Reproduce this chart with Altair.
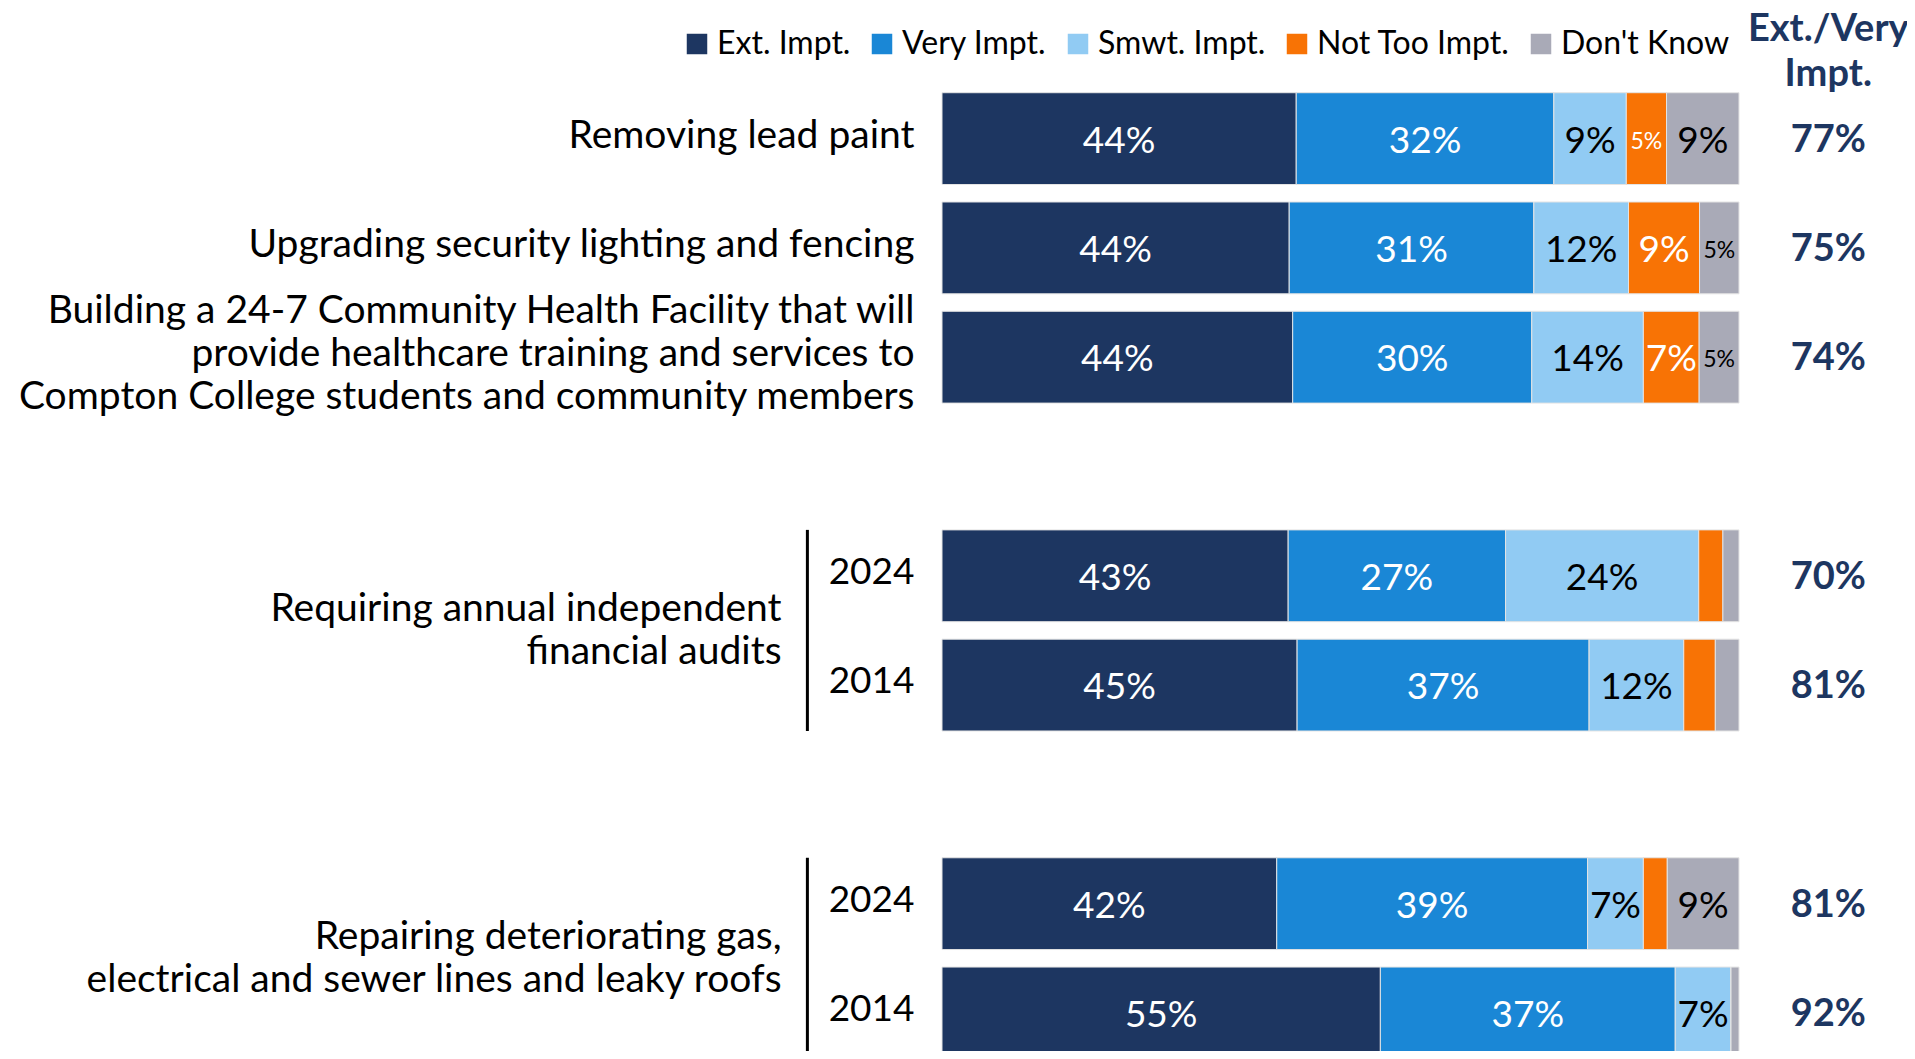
import altair as alt
import pandas as pd

# ---------------- data ----------------
CATS = ["Ext. Impt.", "Very Impt.", "Smwt. Impt.", "Not Too Impt.", "Don't Know"]
COLORS = ["#1D3661", "#1A87D6", "#91CBF3", "#F87305", "#A9AAB7"]

# display order of rows ("" = empty spacer row)
ROW_ORDER = ["lead", "security", "health", "", "audit24", "audit14", " ", "repair24", "repair14"]
ROWS = ["lead", "security", "health", "audit24", "audit14", "repair24", "repair14"]

EXT = [44, 44, 44, 43, 45, 42, 55]
VERY = [32, 31, 30, 27, 37, 39, 37]
SMWT = [9, 12, 14, 24, 12, 7, 7]
NOTTOO = [5, 9, 7, 3, 4, 3, 0]
DK = [9, 5, 5, 2, 3, 9, 1]
EXT_VERY = [77, 75, 74, 70, 81, 81, 92]

ROW_LABELS = [
    "Removing lead paint",
    "Upgrading security lighting and fencing",
    "Building a 24-7 Community Health Facility that will\nprovide healthcare training and services to\nCompton College students and community members",
    "", "", "", "",
]
YEAR_LABELS = ["", "", "", "2024", "2014", "2024", "2014"]
GROUP_LABELS = [
    "Requiring annual independent\nfinancial audits",
    "Repairing deteriorating gas,\nelectrical and sewer lines and leaky roofs",
]
GROUP_ROWS = [["audit24", "audit14"], ["repair24", "repair14"]]
HEADER = "Ext./Very\nImpt."

# ---------------- tables ----------------
series = [EXT, VERY, SMWT, NOTTOO, DK]
long_rows = []
for i, r in enumerate(ROWS):
    for j, c in enumerate(CATS):
        long_rows.append({"row": r, "slot": ROW_ORDER.index(r), "cat": c, "order": j, "value": series[j][i]})
long_df = pd.DataFrame(long_rows)

row_df = pd.DataFrame({
    "row": ROWS,
    "slot": [ROW_ORDER.index(r) for r in ROWS],
    "label": ROW_LABELS,
    "year": YEAR_LABELS,
    "ev": [f"{v}%" for v in EXT_VERY],
})

grp_df = pd.DataFrame({
    "label": GROUP_LABELS,
    "top": [min(ROW_ORDER.index(r) for r in g) for g in GROUP_ROWS],
    "bot": [max(ROW_ORDER.index(r) for r in g) for g in GROUP_ROWS],
})
grp_df["mid"] = (grp_df["top"] + grp_df["bot"]) / 2

hdr_df = pd.DataFrame({"label": [HEADER]})

# ---------------- layout constants ----------------
HALF = 0.42
FONT = "Lato"
NAVY = "#1D3661"
X_LABEL = -0.0345
X_GROUP = -0.2013
X_RULE = -0.1689
X_EV = 1.112
Y_HEADER = -0.785
PX_PER_SLOT = 109.3
LH = 43          # line height of the multi-line labels (px)
LH_HDR = 45

xs = alt.Scale(domain=[0, 1], nice=False, zero=False)
ys = alt.Scale(domain=[-1.195, 8.348], nice=False, zero=False, reverse=True)


def first_line(center_field, lh):
    # y of the first line so that the block of lines is centred on center_field
    return f"datum.{center_field} - (split(datum.label, '\\n').length - 1) / 2 * {lh / PX_PER_SLOT}"


base = (
    alt.Chart(long_df)
    .transform_stack(stack="value", as_=["x0", "x1"], groupby=["row"],
                     sort=[alt.SortField("order", order="ascending")], offset="normalize")
    .transform_calculate(yt=f"datum.slot - {HALF}", yb=f"datum.slot + {HALF}",
                         xm="(datum.x0 + datum.x1) / 2", lab="datum.value + '%'")
)

bars = base.mark_rect(stroke="#E4E4E4", strokeWidth=1).encode(
    x=alt.X("x0:Q", scale=xs, axis=None),
    x2="x1:Q",
    y=alt.Y("yt:Q", scale=ys, axis=None),
    y2="yb:Q",
    color=alt.Color(
        "cat:N",
        scale=alt.Scale(domain=CATS, range=COLORS),
        legend=alt.Legend(
            title=None, orient="none", legendX=-261, legendY=20, direction="horizontal",
            columns=5, symbolType="square", symbolSize=420, symbolStrokeWidth=0,
            symbolOpacity=1, labelFont=FONT, labelFontSize=32, labelColor="black",
            labelOffset=4, columnPadding=15, padding=0, labelLimit=500,
        ),
    ),
)


def value_text(cond, size, color):
    return base.transform_filter(cond).mark_text(
        font=FONT, fontSize=size, color=color, align="center", baseline="middle", dy=3
    ).encode(x=alt.X("xm:Q", scale=xs), y=alt.Y("slot:Q", scale=ys), text="lab:N")


WHITE_CATS = "(datum.order == 0 || datum.order == 1 || datum.order == 3)"
BLACK_CATS = "(datum.order == 2 || datum.order == 4)"
t_big_w = value_text(f"datum.value >= 6 && {WHITE_CATS}", 37, "white")
t_big_b = value_text(f"datum.value >= 6 && {BLACK_CATS}", 37, "black")
t_sm_w = value_text(f"datum.value == 5 && {WHITE_CATS}", 23, "white")
t_sm_b = value_text(f"datum.value == 5 && {BLACK_CATS}", 23, "black")

rows_base = alt.Chart(row_df).transform_calculate(xl=f"{X_LABEL}", xe=f"{X_EV}")

row_labels = rows_base.transform_filter("datum.label != ''").transform_calculate(
    yl=first_line("slot", LH)
).mark_text(
    font=FONT, fontSize=39, color="black", align="right", baseline="middle",
    lineBreak="\n", lineHeight=LH, dy=-3,
).encode(x=alt.X("xl:Q", scale=xs), y=alt.Y("yl:Q", scale=ys), text="label:N")

year_labels = rows_base.transform_filter("datum.year != ''").mark_text(
    font=FONT, fontSize=37, color="black", align="right", baseline="middle", dy=-3,
).encode(x=alt.X("xl:Q", scale=xs), y=alt.Y("slot:Q", scale=ys), text="year:N")

ev_labels = rows_base.mark_text(
    font=FONT, fontSize=38, fontWeight="bold", color=NAVY, align="center", baseline="middle", dy=2,
).encode(x=alt.X("xe:Q", scale=xs), y=alt.Y("slot:Q", scale=ys), text="ev:N")

grp_base = alt.Chart(grp_df).transform_calculate(
    xg=f"{X_GROUP}", xr=f"{X_RULE}", yt=f"datum.top - {HALF}", yb=f"datum.bot + {HALF}",
    yg=first_line("mid", LH),
)
grp_labels = grp_base.mark_text(
    font=FONT, fontSize=39, color="black", align="right", baseline="middle",
    lineBreak="\n", lineHeight=LH,
).encode(x=alt.X("xg:Q", scale=xs), y=alt.Y("yg:Q", scale=ys), text="label:N")

grp_rules = grp_base.mark_rule(color="black", strokeWidth=3).encode(
    x=alt.X("xr:Q", scale=xs), y=alt.Y("yt:Q", scale=ys), y2="yb:Q"
)

header = alt.Chart(hdr_df).transform_calculate(
    xh=f"{X_EV}", yc=f"{Y_HEADER}"
).transform_calculate(yh=first_line("yc", LH_HDR)).mark_text(
    font=FONT, fontSize=38, fontWeight="bold", color=NAVY, align="center", baseline="middle",
    lineBreak="\n", lineHeight=LH_HDR,
).encode(x=alt.X("xh:Q", scale=xs), y=alt.Y("yh:Q", scale=ys), text="label:N")

chart = (
    alt.layer(bars, t_big_w, t_big_b, t_sm_w, t_sm_b, row_labels, year_labels, ev_labels,
              grp_labels, grp_rules, header)
    .properties(width=797, height=1043, autosize="none", background="white",
                padding={"left": 934, "top": 0, "right": 168, "bottom": 0})
    .configure_view(strokeWidth=0, stroke=None)
)

chart.save("out.html", embed_options={"renderer": "svg", "actions": False})
